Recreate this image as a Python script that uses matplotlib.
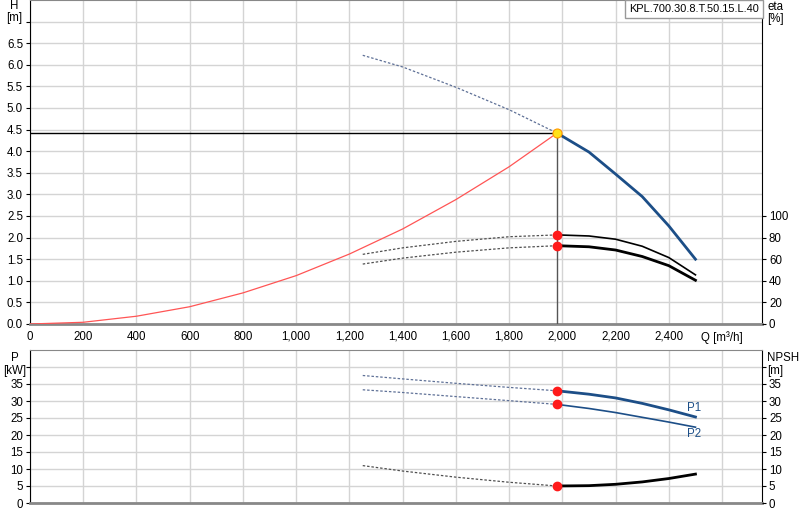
import matplotlib.pyplot as plt

plt.rcParams['font.family'] = ['Liberation Sans', 'DejaVu Sans']

# operating point
q_op = 1980
h_op = 4.42

# pump head curve
h_dash_q = [1250, 1400, 1600, 1800, 1980]
h_dash = [6.22, 5.95, 5.48, 4.96, 4.42]
h_q = [1980, 2100, 2200, 2300, 2400, 2500]
h_val = [4.42, 3.98, 3.47, 2.95, 2.27, 1.5]

# system curve
sys_q = [0, 200, 400, 600, 800, 1000, 1200, 1400, 1600, 1800, 1980]
sys_h = [0.0, 0.04, 0.18, 0.40, 0.72, 1.12, 1.62, 2.20, 2.88, 3.64, 4.42]

# efficiencies
eta_dash_q = [1250, 1400, 1600, 1800, 1980]
eta1_dash = [64.5, 70.5, 76.5, 80.8, 82.5]
eta2_dash = [55.5, 61.0, 66.5, 70.5, 72.5]
eta_q = [1980, 2100, 2200, 2300, 2400, 2500]
eta1 = [82.5, 81.5, 78.5, 72.0, 61.5, 45.5]
eta2 = [72.5, 71.5, 68.5, 62.5, 54.0, 40.5]

# power and npsh
p_dash_q = [1250, 1400, 1600, 1800, 1980]
p1_dash = [37.5, 36.5, 35.2, 34.0, 33.0]
p2_dash = [33.3, 32.5, 31.3, 30.1, 29.0]
npsh_dash = [11.0, 9.4, 7.6, 6.1, 5.0]
p_q = [1980, 2100, 2200, 2300, 2400, 2500]
p1 = [33.0, 32.0, 30.9, 29.3, 27.4, 25.3]
p2 = [29.0, 27.8, 26.6, 25.2, 23.8, 22.3]
npsh = [5.0, 5.1, 5.5, 6.2, 7.2, 8.5]

x_ticks = [0, 200, 400, 600, 800, 1000, 1200, 1400, 1600, 1800, 2000, 2200, 2400, 2600]
x_labels = ['0', '200', '400', '600', '800', '1,000', '1,200', '1,400', '1,600',
            '1,800', '2,000', '2,200', '2,400', 'Q [m³/h]']

blue = '#1c4e87'
dash_blue = '#5f7197'
dash_gray = '#505050'
grid_c = '#d4d4d4'
fs = 8.3

fig = plt.figure(figsize=(8, 5.2), dpi=100)
ax = fig.add_axes([30 / 800, 1 - 324 / 520, 732 / 800, 324 / 520])
axb = fig.add_axes([30 / 800, 1 - 503 / 520, 732 / 800, 153 / 520])

for a in (ax, axb):
    a.set_xlim(0, 2750)
    a.set_xticks(x_ticks)
    a.grid(True, color=grid_c, lw=1)
    a.set_axisbelow(True)
    a.spines['left'].set_color('black')
    a.spines['right'].set_color('black')
    a.spines['bottom'].set_color('#888888')
    a.spines['bottom'].set_linewidth(2)
    a.spines['top'].set_color('#888888')
    a.tick_params(axis='x', length=0, labelsize=fs, pad=5)
    a.tick_params(axis='y', length=3, labelsize=fs, pad=2)

# top panel
ax.set_ylim(0, 7.5)
ax.set_yticks([0, 0.5, 1, 1.5, 2, 2.5, 3, 3.5, 4, 4.5, 5, 5.5, 6, 6.5, 7])
ax.set_yticklabels(['0.0', '0.5', '1.0', '1.5', '2.0', '2.5', '3.0', '3.5', '4.0',
                    '4.5', '5.0', '5.5', '6.0', '6.5', ''])
ax.set_xticklabels(x_labels)

ax.plot(sys_q, sys_h, color='#ff5555', lw=0.9, zorder=3)
ax.plot([0, q_op], [h_op, h_op], color='black', lw=1, zorder=3)
ax.plot([q_op, q_op], [0, h_op], color='#555555', lw=1, zorder=3)
ax.plot(h_dash_q, h_dash, color=dash_blue, lw=0.9, dashes=(2, 1.5), zorder=4)
ax.plot(h_q, h_val, color=blue, lw=2, zorder=4)
ax.plot([q_op], [h_op], 'o', ms=6.5, mfc='#ffe21a', mec='#ff9900', mew=0.8, zorder=6)

axe = ax.twinx()
axe.set_ylim(0, 300)
axe.set_yticks([0, 20, 40, 60, 80, 100])
axe.tick_params(axis='y', length=3, labelsize=fs, pad=2)
for s in axe.spines.values():
    s.set_visible(False)
axe.plot(eta_dash_q, eta1_dash, color=dash_gray, lw=0.9, dashes=(2, 1.5))
axe.plot(eta_dash_q, eta2_dash, color=dash_gray, lw=0.9, dashes=(2, 1.5))
axe.plot(eta_q, eta1, color='black', lw=1.2)
axe.plot(eta_q, eta2, color='black', lw=2)
axe.plot([q_op, q_op], [eta1[0], eta2[0]], 'o', ms=6, color='#ff1a1a', zorder=6)

ax.text(-0.021, 1.0, 'H', transform=ax.transAxes, ha='center', va='top', fontsize=fs)
ax.text(-0.022, 0.963, '[m]', transform=ax.transAxes, ha='center', va='top', fontsize=fs)
ax.text(1.007, 0.997, 'eta', transform=ax.transAxes, ha='left', va='top', fontsize=fs)
ax.text(1.007, 0.96, '[%]', transform=ax.transAxes, ha='left', va='top', fontsize=fs)
ax.text(0.9955, 0.988, 'KPL.700.30.8.T.50.15.L.40', transform=ax.transAxes,
        ha='right', va='top', fontsize=7.9, zorder=10,
        bbox=dict(boxstyle='square,pad=0.35', fc='white', ec='#999999', lw=1))

# bottom panel
axb.set_ylim(0, 45)
axb.set_yticks([0, 5, 10, 15, 20, 25, 30, 35, 40])
axb.set_yticklabels(['0', '5', '10', '15', '20', '25', '30', '35', ''])
axb.set_xticklabels([])

axb.plot(p_dash_q, p1_dash, color=dash_blue, lw=0.9, dashes=(2, 1.5))
axb.plot(p_dash_q, p2_dash, color=dash_blue, lw=0.9, dashes=(2, 1.5))
axb.plot(p_dash_q, npsh_dash, color=dash_gray, lw=0.9, dashes=(2, 1.5))
axb.plot(p_q, p1, color=blue, lw=2)
axb.plot(p_q, p2, color=blue, lw=1.2)
axb.plot(p_q, npsh, color='black', lw=2)
axb.plot([q_op, q_op, q_op], [p1[0], p2[0], npsh[0]], 'o', ms=6, color='#ff1a1a', zorder=6)
axb.text(2495, 28.0, 'P1', color=blue, fontsize=fs, ha='center', va='center')
axb.text(2495, 20.2, 'P2', color=blue, fontsize=fs, ha='center', va='center')

axn = axb.twinx()
axn.set_ylim(0, 45)
axn.set_yticks([0, 5, 10, 15, 20, 25, 30, 35, 40])
axn.set_yticklabels(['0', '5', '10', '15', '20', '25', '30', '35', ''])
axn.tick_params(axis='y', length=3, labelsize=fs, pad=2)
for s in axn.spines.values():
    s.set_visible(False)

axb.text(-0.021, 0.985, 'P', transform=axb.transAxes, ha='center', va='top', fontsize=fs)
axb.text(-0.021, 0.905, '[kW]', transform=axb.transAxes, ha='center', va='top', fontsize=fs)
axb.text(1.007, 0.985, 'NPSH', transform=axb.transAxes, ha='left', va='top', fontsize=fs)
axb.text(1.007, 0.905, '[m]', transform=axb.transAxes, ha='left', va='top', fontsize=fs)

fig.savefig('out.png', dpi=100)
